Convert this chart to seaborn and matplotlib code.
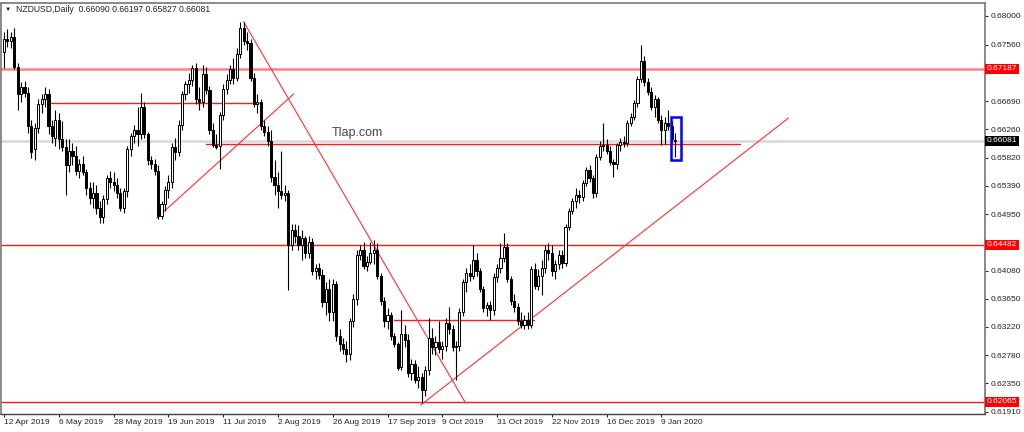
import pandas as pd
import numpy as np
import matplotlib
matplotlib.use('Agg')
import matplotlib.pyplot as plt
import matplotlib.transforms as mtransforms
from matplotlib.patches import Rectangle
import seaborn as sns

# %% NZDUSD daily bars, 12 Apr 2019 - 15 Jan 2020
opens = [
    .6745, .6765, .6762, .6768, .6722, .6680, .6690, .6682, .6630, .6595,
    .6628, .6665, .6672, .6680, .6630, .6612, .6640, .6610, .6598, .6570,
    .6592, .6585, .6562, .6572, .6560, .6535, .6520, .6528, .6505, .6490,
    .6518, .6550, .6545, .6540, .6528, .6505, .6530, .6595, .6615, .6625,
    .6618, .6660, .6618, .6578, .6572, .6562, .6492, .6510, .6532, .6545,
    .6598, .6590, .6632, .6680, .6695, .6702, .6720, .6672, .6668, .6710,
    .6686, .6625, .6602, .6600, .6648, .6688, .6702, .6718, .6705, .6742,
    .6782, .6762, .6758, .6705, .6665, .6668, .6630, .6622, .6608, .6552,
    .6540, .6530, .6525, .6528, .6448, .6470, .6462, .6448, .6458, .6435,
    .6452, .6408, .6412, .6402, .6360, .6380, .6345, .6388, .6308, .6295,
    .6288, .6280, .6330, .6365, .6432, .6440, .6415, .6422, .6435, .6440,
    .6400, .6362, .6330, .6340, .6308, .6295, .6260, .6310, .6302, .6250,
    .6265, .6240, .6245, .6225, .6255, .6305, .6290, .6298, .6288, .6292,
    .6328, .6318, .6290, .6292, .6345, .6390, .6405, .6400, .6425, .6408,
    .6380, .6350, .6355, .6348, .6398, .6412, .6428, .6445, .6395, .6362,
    .6352, .6330, .6325, .6332, .6325, .6410, .6385, .6400, .6412, .6440,
    .6435, .6408, .6418, .6432, .6420, .6475, .6500, .6515, .6525, .6522,
    .6543, .6563, .6550, .6528, .6583, .6600, .6602, .6592, .6575, .6572,
    .6601, .6606, .6604, .6636, .6645, .6666, .6703, .6730, .6698, .6683,
    .6660, .6672, .6640, .6625, .6635, .6630, .66090]
highs = [
    .6775, .6780, .6775, .6782, .6728, .6698, .6700, .6690, .6640, .6635,
    .6672, .6680, .6690, .6688, .6640, .6655, .6650, .6638, .6610, .6610,
    .6605, .6600, .6580, .6585, .6565, .6545, .6545, .6540, .6515, .6525,
    .6555, .6562, .6560, .6550, .6535, .6535, .6600, .6620, .6632, .6660,
    .6682, .6668, .6622, .6585, .6580, .6570, .6515, .6538, .6555, .6605,
    .6612, .6640, .6685, .6700, .6712, .6725, .6728, .6690, .6725, .6722,
    .6692, .6635, .6618, .6652, .6695, .6710, .6725, .6735, .6750, .6790,
    .6790, .6775, .6765, .6712, .6680, .6672, .6640, .6630, .6625, .6578,
    .6560, .6592, .6540, .6532, .6480, .6480, .6478, .6470, .6462, .6462,
    .6458, .6418, .6420, .6410, .6390, .6395, .6395, .6392, .6318, .6305,
    .6300, .6335, .6372, .6440, .6448, .6452, .6430, .6452, .6455, .6450,
    .6405, .6368, .6350, .6345, .6312, .6298, .6348, .6325, .6310, .6272,
    .6270, .6262, .6250, .6262, .6335, .6320, .6308, .6330, .6300, .6335,
    .6352, .6325, .6300, .6350, .6395, .6412, .6418, .6448, .6435, .6412,
    .6385, .6360, .6362, .6405, .6418, .6450, .6466, .6450, .6400, .6372,
    .6358, .6345, .6340, .6345, .6415, .6420, .6410, .6425, .6448, .6450,
    .6448, .6425, .6440, .6440, .6480, .6505, .6520, .6535, .6532, .6548,
    .6568, .6570, .6555, .6588, .6608, .6635, .6610, .6600, .6580, .6605,
    .6612, .6615, .6640, .6650, .6670, .6708, .6756, .6738, .6705, .6690,
    .6678, .6676, .6648, .6645, .6655, .6638, .66197]
lows = [
    .6720, .6752, .6750, .6718, .6655, .6668, .6675, .6620, .6582, .6578,
    .6620, .6650, .6660, .6618, .6605, .6600, .6595, .6592, .6525, .6560,
    .6570, .6555, .6550, .6555, .6525, .6510, .6505, .6495, .6482, .6482,
    .6510, .6535, .6530, .6520, .6500, .6497, .6522, .6585, .6605, .6600,
    .6610, .6612, .6570, .6565, .6555, .6488, .6488, .6500, .6520, .6535,
    .6578, .6585, .6625, .6670, .6682, .6692, .6665, .6655, .6660, .6680,
    .6618, .6598, .6595, .6565, .6640, .6680, .6695, .6695, .6700, .6735,
    .6755, .6748, .6700, .6660, .6650, .6625, .6615, .6600, .6545, .6525,
    .6505, .6518, .6515, .6378, .6440, .6450, .6440, .6425, .6428, .6428,
    .6402, .6395, .6395, .6352, .6340, .6330, .6330, .6300, .6285, .6280,
    .6268, .6270, .6322, .6355, .6425, .6410, .6408, .6418, .6418, .6395,
    .6355, .6322, .6318, .6302, .6290, .6255, .6255, .6290, .6245, .6240,
    .6235, .6228, .6204, .6215, .6248, .6280, .6278, .6282, .6272, .6285,
    .6310, .6285, .6240, .6285, .6338, .6375, .6392, .6395, .6400, .6375,
    .6345, .6338, .6332, .6340, .6390, .6405, .6422, .6390, .6355, .6345,
    .6325, .6320, .6318, .6318, .6320, .6380, .6378, .6370, .6405, .6425,
    .6400, .6395, .6410, .6412, .6415, .6470, .6495, .6505, .6512, .6515,
    .6538, .6545, .6520, .6522, .6578, .6592, .6588, .6570, .6552, .6565,
    .6592, .6598, .6600, .6630, .6640, .6660, .6698, .6692, .6678, .6655,
    .6645, .6635, .6602, .6603, .6625, .6605, .65827]
closes = [
    .6765, .6762, .6768, .6722, .6680, .6690, .6682, .6630, .6590, .6628,
    .6665, .6672, .6680, .6630, .6615, .6640, .6610, .6598, .6570, .6592,
    .6585, .6562, .6572, .6560, .6535, .6520, .6528, .6505, .6490, .6518,
    .6550, .6545, .6540, .6528, .6505, .6530, .6595, .6615, .6625, .6618,
    .6660, .6618, .6578, .6572, .6562, .6492, .6510, .6532, .6545, .6598,
    .6590, .6632, .6680, .6695, .6702, .6720, .6672, .6668, .6710, .6686,
    .6625, .6602, .6598, .6648, .6688, .6702, .6718, .6705, .6742, .6782,
    .6762, .6758, .6705, .6665, .6668, .6630, .6622, .6608, .6552, .6540,
    .6530, .6525, .6528, .6448, .6470, .6462, .6448, .6458, .6435, .6452,
    .6408, .6412, .6402, .6360, .6380, .6345, .6388, .6308, .6295, .6288,
    .6280, .6330, .6365, .6432, .6440, .6415, .6422, .6435, .6440, .6400,
    .6362, .6330, .6340, .6308, .6295, .6258, .6310, .6302, .6250, .6265,
    .6240, .6245, .6225, .6255, .6305, .6290, .6298, .6288, .6292, .6328,
    .6318, .6290, .6292, .6345, .6390, .6405, .6400, .6425, .6408, .6380,
    .6350, .6355, .6348, .6398, .6412, .6428, .6445, .6395, .6362, .6352,
    .6330, .6325, .6332, .6325, .6410, .6385, .6400, .6412, .6440, .6435,
    .6408, .6418, .6432, .6420, .6475, .6500, .6515, .6525, .6522, .6543,
    .6563, .6550, .6528, .6583, .6600, .6602, .6592, .6575, .6572, .6601,
    .6606, .6604, .6636, .6645, .6666, .6703, .6730, .6698, .6683, .6660,
    .6672, .6640, .6625, .6635, .6630, .6610, .66081]

# trading days (broker closed on Christmas and New Year)
dates = pd.bdate_range('2019-04-12', '2020-01-15')
dates = dates.drop(pd.to_datetime(['2019-12-25', '2020-01-01']))

date_labels = ['12 Apr 2019', '6 May 2019', '28 May 2019', '19 Jun 2019',
               '11 Jul 2019', '2 Aug 2019', '26 Aug 2019', '17 Sep 2019',
               '9 Oct 2019', '31 Oct 2019', '22 Nov 2019', '16 Dec 2019',
               '9 Jan 2020']
price_ticks = [0.68000, 0.67560, 0.67130, 0.66690, 0.66260, 0.65820,
               0.65390, 0.64950, 0.64520, 0.64080, 0.63650, 0.63220,
               0.62780, 0.62350, 0.61910]
# these two scale labels sit under the level price boxes
hidden_ticks = [0.67130, 0.64520]

# drawn objects: full width levels, short levels, trend lines
levels = [0.67187, 0.64482, 0.62065]
short_levels = [0.6666, 0.6603, 0.6332]
short_start = [13.7, 59.0, 113.8]
short_end = [75.0, 215.0, 154.7]
trend_start = [(70.0, 0.6791), (44.6, 0.6489), (121.7, 0.62013)]
trend_end = [(134.8, 0.62044), (84.6, 0.6680), (229.1, 0.6643)]
last_price = 0.66081
box_bars = (194.9, 197.8)
box_prices = (0.65784, 0.66446)

# %% Plot
sns.set_theme(style='white')
plt.rcParams['font.family'] = ['Liberation Sans', 'DejaVu Sans']

fig = plt.figure(figsize=(10.24, 4.32), dpi=100)
ax = fig.add_axes([1 / 1024, 18 / 432, 984 / 1024, 411 / 432])

x = np.arange(len(closes))
o = np.array(opens)
c = np.array(closes)
up = c >= o
body = np.maximum(np.abs(c - o), 0.00005)

# levels behind candles
ax.axhline(levels[0], color='#ff8080', lw=1.8, zorder=1)
ax.axhline(last_price, color='#d8d8d8', lw=1.8, zorder=1)
for lv in levels[1:]:
    ax.axhline(lv, color='#ff1a1a', lw=1.0, zorder=1)
for p, s, e in zip(short_levels, short_start, short_end):
    sns.lineplot(x=[s, e], y=[p, p], ax=ax, color='#ff1a1a', lw=1.0,
                 zorder=2)
for (x0, p0), (x1, p1) in zip(trend_start, trend_end):
    sns.lineplot(x=[x0, x1], y=[p0, p1], ax=ax, color='#ff3030', lw=0.8,
                 zorder=2)

# candles
ax.vlines(x, lows, highs, color='black', lw=0.8, zorder=3)
ax.bar(x[up], body[up], bottom=o[up], width=0.62, color='white',
       edgecolor='black', linewidth=0.7, zorder=4)
ax.bar(x[~up], body[~up], bottom=c[~up], width=0.62, color='black',
       edgecolor='black', linewidth=0.7, zorder=4)

ax.add_patch(Rectangle((box_bars[0], box_prices[0]),
                       box_bars[1] - box_bars[0],
                       box_prices[1] - box_prices[0],
                       fill=False, edgecolor='#0000ff', lw=1.8, zorder=6))

ax.text(103.3, 0.6620, 'Tlap.com', size=9, color='#454545',
        ha='center', va='center', zorder=5)
ax.text(0.004, 0.985, '\u25bc', transform=ax.transAxes, size=4.5,
        va='center', ha='left', color='#222222')
ax.text(0.015, 0.985, 'NZDUSD,Daily  0.66090 0.66197 0.65827 0.66081',
        transform=ax.transAxes, size=6.2, va='center', ha='left',
        color='#222222')

ax.set_xlim(-0.88, 286.5)
ax.set_ylim(0.61875, 0.68200)

tick_pos = [dates.get_loc(pd.Timestamp(d)) for d in date_labels]
ax.set_xticks(tick_pos)
ax.set_xticklabels(date_labels, ha='left')
ax.yaxis.tick_right()
ax.set_yticks(price_ticks)
ax.set_yticklabels(['' if v in hidden_ticks else f'{v:.5f}'
                    for v in price_ticks])
ax.tick_params(axis='x', bottom=True, length=2.5, width=0.8, pad=1,
               labelsize=6, colors='#222222')
ax.tick_params(axis='y', right=True, left=False, length=2, width=0.8,
               pad=2, labelsize=6, colors='#222222')
ax.set_xlabel('')
ax.set_ylabel('')
for side in ['left', 'right', 'top']:
    ax.spines[side].set_color('#808080')
    ax.spines[side].set_linewidth(1.3)
ax.spines['bottom'].set_color('#404040')
ax.spines['bottom'].set_linewidth(1.0)

# price labels on the right scale
trans = mtransforms.blended_transform_factory(ax.transAxes, ax.transData)
for p, col in zip(levels + [last_price], ['red'] * 3 + ['black']):
    ax.text(1.002, p, f'{p:.5f}', transform=trans, color='white', size=6,
            va='center', ha='left', clip_on=False, zorder=10,
            bbox=dict(boxstyle='square,pad=0.18', fc=col, ec='none'))

fig.savefig('out.png', dpi=100, facecolor='white')
